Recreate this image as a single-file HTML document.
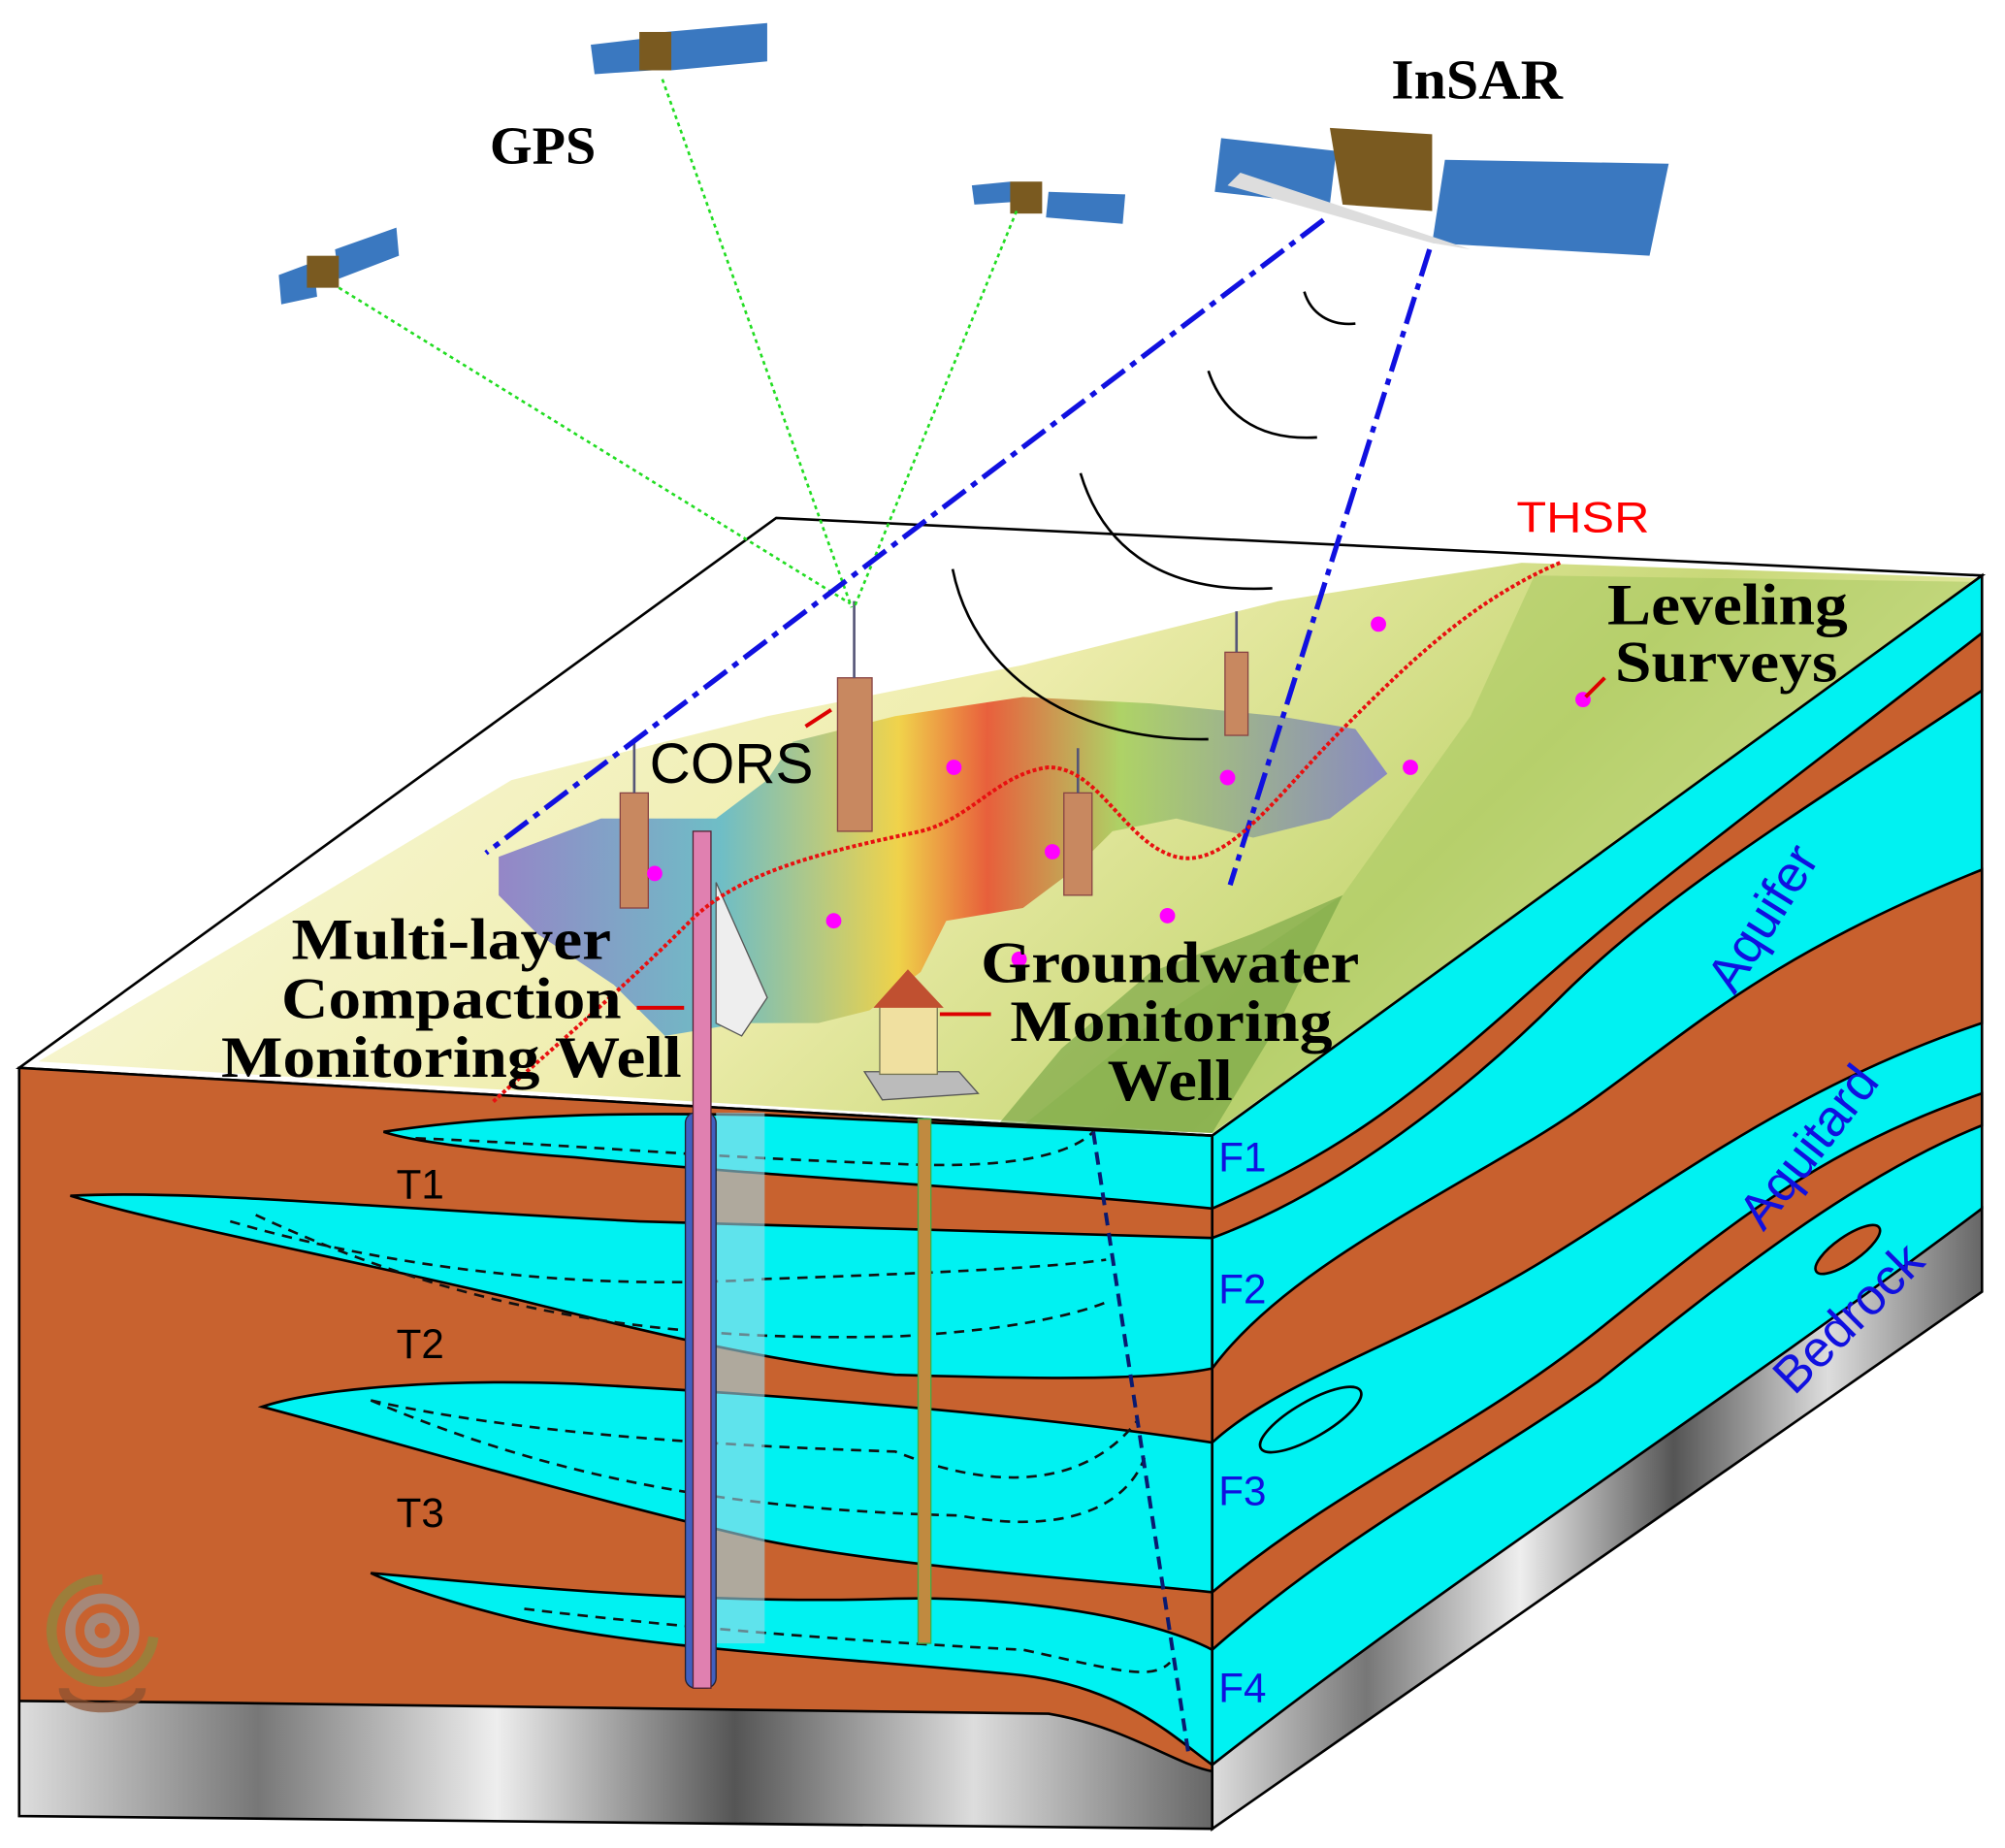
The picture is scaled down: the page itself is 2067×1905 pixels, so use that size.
<!DOCTYPE html>
<html><head><meta charset="utf-8"><style>
html,body{margin:0;padding:0;background:#fff;width:2067px;height:1905px;overflow:hidden}
svg{display:block}
.ser{font-family:"Liberation Serif",serif;font-weight:bold}
.san{font-family:"Liberation Sans",sans-serif}
</style></head><body>
<svg width="2067" height="1905" viewBox="0 0 1568 1445" preserveAspectRatio="none" xmlns="http://www.w3.org/2000/svg">
<defs>
<linearGradient id="top" x1="0" y1="0" x2="1" y2="0.3">
<stop offset="0" stop-color="#fbfbe8"/><stop offset="0.5" stop-color="#f0eeb0"/><stop offset="0.8" stop-color="#c8d878"/><stop offset="1" stop-color="#eef0b0"/></linearGradient>
<linearGradient id="blob" x1="0" y1="0" x2="1" y2="0">
<stop offset="0" stop-color="#8a7ac8"/><stop offset="0.25" stop-color="#60b8c8"/><stop offset="0.45" stop-color="#f0d040"/><stop offset="0.55" stop-color="#e85030"/><stop offset="0.7" stop-color="#a8d060"/><stop offset="1" stop-color="#8080c8"/></linearGradient>
<linearGradient id="rock" x1="0" y1="0" x2="1" y2="0">
<stop offset="0" stop-color="#ddd"/><stop offset="0.2" stop-color="#777"/><stop offset="0.4" stop-color="#eee"/><stop offset="0.6" stop-color="#555"/><stop offset="0.8" stop-color="#ddd"/><stop offset="1" stop-color="#666"/></linearGradient>
<clipPath id="topclip"><polygon points="607,405 1550,450 948,888 15,835"/></clipPath>
</defs>
<!-- top face -->
<polygon points="607,405 1550,450 948,888 15,835" fill="#fff" stroke="#000" stroke-width="2"/>
<g clip-path="url(#topclip)">
<path d="M30,830 L250,700 400,610 600,560 800,520 1000,470 1190,440 1550,452 948,886 Z" fill="url(#top)"/>
<path d="M1200,450 L1550,455 1300,640 1100,780 950,886 800,880 900,800 1050,700 1150,560 Z" fill="#a8c860" opacity="0.55"/>
<path d="M390,670 L470,640 560,640 600,610 620,580 700,560 800,545 900,550 1000,560 1060,570 1085,605 1040,640 980,655 920,640 870,650 840,680 800,710 740,720 720,760 680,790 640,800 580,800 520,810 480,770 420,730 390,700 Z" fill="url(#blob)" opacity="0.9"/>
<path d="M780,880 L830,820 900,760 980,730 1050,700 1000,800 948,886 Z" fill="#70a040" opacity="0.6"/>
</g>
<!-- right face -->
<polygon points="948,888 1550,450 1550,945 948,1430" fill="#00f2f2" stroke="#000" stroke-width="2"/>
<path d="M948,945 C1050,900 1100,860 1180,790 C1280,700 1350,650 1550,495 L1550,540 C1400,640 1300,700 1220,780 C1150,850 1050,930 948,968 Z" fill="#c8602e" stroke="#000" stroke-width="2"/>
<path d="M948,1070 C1000,1000 1100,950 1200,890 C1300,830 1350,760 1550,680 L1550,800 C1400,850 1300,930 1200,990 C1100,1050 1000,1080 948,1128 Z" fill="#c8602e" stroke="#000" stroke-width="2"/>
<ellipse cx="1025" cy="1110" rx="45" ry="14" transform="rotate(-30 1025 1110)" fill="#00f2f2" stroke="#000" stroke-width="2"/>
<path d="M948,1245 C1050,1160 1150,1120 1250,1040 C1350,960 1420,900 1550,855 L1550,880 C1450,920 1350,1000 1250,1080 C1150,1150 1050,1200 948,1290 Z" fill="#c8602e" stroke="#000" stroke-width="2"/>
<ellipse cx="1445" cy="977" rx="30" ry="10" transform="rotate(-35 1445 977)" fill="#c8602e" stroke="#000" stroke-width="2"/>
<path d="M948,1380 C1050,1300 1150,1230 1250,1160 C1350,1090 1450,1020 1550,945 L1550,1010 948,1430 Z" fill="url(#rock)" stroke="#000" stroke-width="2"/>
<!-- front face -->
<polygon points="15,835 948,888 948,1430 15,1420" fill="#c8622f"/>
<path d="M300,885 C400,870 500,870 600,872 L948,888 L948,945 C800,930 600,920 450,905 C380,900 320,892 300,885 Z" fill="#00f2f2" stroke="#000" stroke-width="2"/>
<path d="M55,935 C150,930 300,945 500,955 C700,962 850,965 948,968 L948,1070 C900,1080 800,1078 700,1075 C600,1065 500,1040 400,1015 C250,980 120,955 55,935 Z" fill="#00f2f2" stroke="#000" stroke-width="2"/>
<path d="M205,1100 C250,1085 350,1078 450,1082 C600,1090 800,1105 948,1128 L948,1245 C850,1235 700,1225 600,1205 C450,1170 300,1125 205,1100 Z" fill="#00f2f2" stroke="#000" stroke-width="2"/>
<path d="M290,1230 C400,1240 550,1255 700,1250 C800,1248 900,1265 948,1290 L948,1380 C920,1360 880,1320 800,1310 C650,1295 500,1290 400,1265 C340,1250 300,1235 290,1230 Z" fill="#00f2f2" stroke="#000" stroke-width="2"/>
<path d="M15,1330 C300,1332 600,1338 820,1340 C880,1350 920,1380 948,1385 L948,1430 L15,1420 Z" fill="url(#rock)"/>
<path d="M15,1330 C300,1332 600,1338 820,1340 C880,1350 920,1380 948,1385" fill="none" stroke="#000" stroke-width="2"/>
<polygon points="15,835 948,888 948,1430 15,1420" fill="none" stroke="#000" stroke-width="2"/>
<!-- dashed curves -->
<g fill="none" stroke="#111" stroke-width="2" stroke-dasharray="8,6">
<path d="M325,890 C450,895 550,905 700,910 C800,915 840,900 855,885"/>
<path d="M180,955 C300,990 450,1010 600,1000 C750,995 830,990 865,985"/>
<path d="M200,950 C350,1020 500,1050 700,1045 C800,1040 850,1025 868,1017"/>
<path d="M290,1095 C400,1120 550,1130 700,1135 C800,1175 860,1150 890,1110"/>
<path d="M290,1095 C420,1150 550,1180 750,1185 C830,1200 880,1180 895,1140"/>
<path d="M410,1258 C550,1275 700,1285 800,1290 C870,1305 900,1315 915,1300"/>
</g>
<path d="M855,885 L930,1375" stroke="#0a1a70" stroke-width="3" stroke-dasharray="10,6" fill="none"/>
<!-- wells -->
<rect x="560" y="870" width="38" height="415" fill="#9fd8e8" opacity="0.6"/>
<rect x="536" y="870" width="24" height="450" rx="8" fill="#4060c0" stroke="#223" stroke-width="1"/>
<rect x="542" y="650" width="14" height="670" fill="#e080b0" stroke="#523" stroke-width="1"/>
<path d="M560,690 L600,780 580,810 560,800 Z" fill="#eee" stroke="#555"/>
<rect x="718" y="875" width="10" height="410" fill="#c08a40" stroke="#4a4" stroke-width="1"/>
<polygon points="676,838 750,838 765,855 690,860" fill="#bbb" stroke="#555"/>
<rect x="688" y="785" width="45" height="55" fill="#f0e0a0" stroke="#775"/>
<polygon points="683,788 710,758 738,788" fill="#c05030"/>
<!-- CORS towers -->
<g fill="#c88860" stroke="#844" stroke-width="1">
<rect x="655" y="530" width="27" height="120"/><rect x="485" y="620" width="22" height="90"/>
<rect x="832" y="620" width="22" height="80"/><rect x="958" y="510" width="18" height="65"/>
</g>
<g stroke="#557" stroke-width="2"><line x1="668" y1="470" x2="668" y2="530"/><line x1="496" y1="580" x2="496" y2="620"/><line x1="843" y1="585" x2="843" y2="620"/><line x1="967" y1="478" x2="967" y2="510"/></g>
<!-- satellites -->
<g>
<polygon points="955,108 1045,118 1040,160 950,150" fill="#3a78c0"/>
<polygon points="1130,125 1305,128 1290,200 1120,190" fill="#3a78c0"/>
<polygon points="1040,100 1120,105 1120,165 1050,160" fill="#7a5a20"/>
<polygon points="970,135 1150,195 1120,190 960,145" fill="#ddd"/>
<polygon points="462,35 505,30 510,55 465,58" fill="#3a78c0"/><polygon points="520,25 600,18 600,48 525,55" fill="#3a78c0"/><rect x="500" y="25" width="25" height="30" fill="#7a5a20"/>
<polygon points="760,145 790,142 792,158 762,160" fill="#3a78c0"/><polygon points="820,150 880,152 878,175 818,170" fill="#3a78c0"/><rect x="790" y="142" width="25" height="25" fill="#7a5a20"/>
<polygon points="218,215 245,205 248,232 220,238" fill="#3a78c0"/><polygon points="262,195 310,178 312,200 265,218" fill="#3a78c0"/><rect x="240" y="200" width="25" height="25" fill="#7a5a20"/>
</g>
<!-- signal lines -->
<g fill="none" stroke="#22dd22" stroke-width="2" stroke-dasharray="3,3">
<line x1="265" y1="225" x2="665" y2="472"/><line x1="518" y1="62" x2="666" y2="475"/><line x1="795" y1="165" x2="668" y2="475"/></g>
<g fill="none" stroke="#1010e0" stroke-width="4" stroke-dasharray="22,6,5,6">
<line x1="1035" y1="172" x2="380" y2="667"/><line x1="1118" y1="195" x2="962" y2="692"/></g>
<g fill="none" stroke="#000" stroke-width="2">
<path d="M1020,228 C1025,245 1040,255 1060,253"/>
<path d="M945,290 C955,320 980,345 1030,342"/>
<path d="M845,370 C860,420 900,465 995,460"/>
<path d="M745,445 C760,520 830,580 945,578"/></g>
<!-- THSR -->
<path d="M1220,440 C1150,470 1100,520 1050,570 C1000,620 960,680 920,670 C880,660 860,600 820,600 C780,605 760,640 720,650 C650,665 580,680 540,720 C480,780 420,830 385,862" fill="none" stroke="#e81010" stroke-width="3" stroke-dasharray="3,2"/>
<g fill="#ff00ff"><circle cx="1078" cy="488" r="6"/><circle cx="1238" cy="547" r="6"/><circle cx="1103" cy="600" r="6"/><circle cx="960" cy="608" r="6"/><circle cx="746" cy="600" r="6"/><circle cx="823" cy="666" r="6"/><circle cx="652" cy="720" r="6"/><circle cx="913" cy="716" r="6"/><circle cx="512" cy="683" r="6"/><circle cx="797" cy="750" r="6"/></g>
<g stroke="#d00" stroke-width="3" fill="#d00"><line x1="650" y1="555" x2="630" y2="568"/><line x1="1240" y1="545" x2="1255" y2="530"/><line x1="535" y1="788" x2="498" y2="788"/><line x1="735" y1="793" x2="775" y2="793"/></g>
<!-- text -->
<text class="ser" x="383" y="128" font-size="42" textLength="83" lengthAdjust="spacingAndGlyphs">GPS</text>
<text class="ser" x="1088" y="77" font-size="44" textLength="134" lengthAdjust="spacingAndGlyphs">InSAR</text>
<text class="san" x="1186" y="416" font-size="34" fill="#f00" textLength="104" lengthAdjust="spacingAndGlyphs">THSR</text>
<g class="ser" font-size="46">
<text x="1257" y="488" textLength="188" lengthAdjust="spacingAndGlyphs">Leveling</text>
<text x="1263" y="533" textLength="174" lengthAdjust="spacingAndGlyphs">Surveys</text>
<text x="228" y="750" textLength="250" lengthAdjust="spacingAndGlyphs">Multi-layer</text>
<text x="220" y="796" textLength="266" lengthAdjust="spacingAndGlyphs">Compaction</text>
<text x="173" y="842" textLength="360" lengthAdjust="spacingAndGlyphs">Monitoring Well</text>
<text x="767" y="768" textLength="296" lengthAdjust="spacingAndGlyphs">Groundwater</text>
<text x="790" y="814" textLength="252" lengthAdjust="spacingAndGlyphs">Monitoring</text>
<text x="866" y="860" textLength="98" lengthAdjust="spacingAndGlyphs">Well</text></g>
<text class="san" x="508" y="612" font-size="44" textLength="128" lengthAdjust="spacingAndGlyphs">CORS</text>
<g class="san" font-size="32"><text x="310" y="937">T1</text><text x="310" y="1062">T2</text><text x="310" y="1194">T3</text></g>
<g class="san" font-size="32" fill="#1010e0"><text x="953" y="916">F1</text><text x="953" y="1019">F2</text><text x="953" y="1177">F3</text><text x="953" y="1331">F4</text>
<text transform="translate(1390,725) rotate(-58)" text-anchor="middle" font-size="40">Aquifer</text>
<text transform="translate(1425,905) rotate(-52)" text-anchor="middle" font-size="40">Aquitard</text>
<text transform="translate(1455,1040) rotate(-45)" text-anchor="middle" font-size="40">Bedrock</text></g>
<!-- logo -->
<g fill="none" stroke-width="8" opacity="0.7"><path d="M80,1235 A40,40 0 1 0 120,1280" stroke="#8a8a40"/><circle cx="80" cy="1275" r="25" stroke="#999"/><circle cx="80" cy="1275" r="10" stroke="#999"/><path d="M50,1320 C50,1340 110,1340 110,1320" stroke="#8a5030"/></g>
</svg>
</body></html>
